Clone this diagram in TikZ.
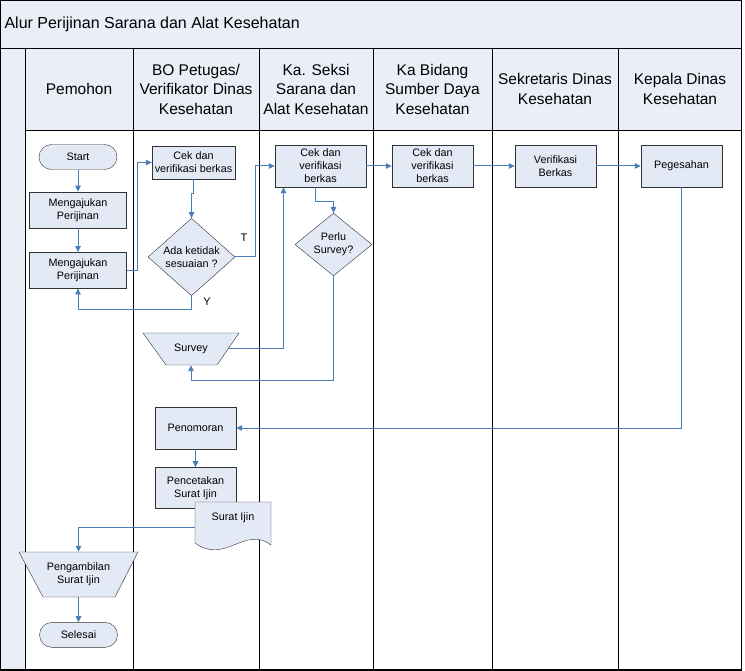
\documentclass[tikz,border=0pt]{standalone}
\usepackage{fontspec}
\setmainfont{Liberation Sans}
\usetikzlibrary{positioning,arrows.meta,shapes.geometric}
\definecolor{hdrfill}{HTML}{E9EEF7}
\definecolor{boxfill}{HTML}{E4EAF5}
\definecolor{flowblue}{HTML}{4A7EBB}

\begin{document}
\begin{tikzpicture}[
  x=1pt, y=-1pt,
  box/.style={draw=black!80, fill=boxfill, align=center, inner sep=2pt,
              font=\fontsize{10.8}{13}\selectfont, minimum width=81pt, minimum height=42pt},
  term/.style={box, rounded corners=12.5pt, minimum width=78pt, minimum height=25pt},
  dec/.style={box, diamond, inner sep=0pt},
  outline/.style={draw=black!80, fill=boxfill},
  plain/.style={align=center, inner sep=2pt, font=\fontsize{10.8}{13}\selectfont},
  lanehead/.style={align=center, font=\fontsize{15.5}{19.5}\selectfont},
  arr/.style={-{Triangle[length=6pt,width=5.5pt]}, flowblue, line width=1pt},
  yt/.style={font=\fontsize{11}{13}\selectfont}
]
\useasboundingbox (0,0) rectangle (745,671);
\fill[hdrfill] (0,0) rectangle (742,130);
\fill[hdrfill] (0,130) rectangle (25,670);
\draw[line width=1.2pt] (0.6,0.6) rectangle (741.4,670);
\draw (0,48) -- (742,48);
\draw (25,48) -- (25,670);
\draw (25,130) -- (742,130);
\foreach \x in {133,259,373,492,618} \draw (\x,48) -- (\x,670);

\node[anchor=west, font=\fontsize{16}{19}\selectfont] (title) at (1,24) {Alur Perijinan Sarana dan Alat Kesehatan};
\node[lanehead] (h1) at (79,89) {Pemohon};
\node[lanehead] (h2) at (196,89) {BO Petugas/\\Verifikator Dinas\\Kesehatan};
\node[lanehead] (h3) at (316,89) {Ka. Seksi\\Sarana dan\\Alat Kesehatan};
\node[lanehead] (h4) at (432.5,89) {Ka Bidang\\Sumber Daya\\Kesehatan};
\node[lanehead] (h5) at (555,89) {Sekretaris Dinas\\Kesehatan};
\node[lanehead] (h6) at (680,89) {Kepala Dinas\\Kesehatan};

\node[term] (start) at (78,157) {Start};
\node[box, minimum width=97pt, minimum height=36pt, below=22pt of start] (m1) {Mengajukan\\Perijinan};
\node[box, minimum width=97pt, minimum height=36pt, below=24pt of m1] (m2) {Mengajukan\\Perijinan};
\node[box, minimum width=83pt, minimum height=33pt] (cek1) at (193.5,162.5) {Cek dan\\verifikasi berkas};
\node[dec, minimum width=87pt, minimum height=72pt] (d1) at (191.5,257) {Ada ketidak\\sesuaian ?};
\node[box, minimum width=91pt] (cek2) at (320.5,166) {Cek dan\\verifikasi\\berkas};
\node[dec, minimum width=77pt, minimum height=59pt] (d2) at (333.5,244.5) {Perlu\\Survey?};
\filldraw[outline] (143,333) -- (239,333) -- (217,365) -- (166,365) -- cycle;
\node[plain, minimum width=76pt, minimum height=32pt] (survey) at (191,349) {Survey};
\node[box] (cek3) at (432.5,166) {Cek dan\\verifikasi\\berkas};
\node[box] (verif) at (555.5,166) {Verifikasi\\Berkas};
\node[box] (peg) at (681.5,166) {Pegesahan};
\node[box] (pen) at (195.5,428) {Penomoran};
\node[box, minimum height=41pt, below=18pt of pen] (cet) {Pencetakan\\Surat Ijin};
\filldraw[outline] (195,502) -- (271,502) -- (271,545)
  .. controls (245,525) and (225,565) .. (195,543) -- cycle;
\node[plain, minimum width=76pt, minimum height=30pt] (surat) at (233,518) {Surat Ijin};
\filldraw[outline] (19,552) -- (138,552) -- (115,597) -- (43,597) -- cycle;
\node[plain, minimum width=96pt, minimum height=45pt] (ambil) at (78.5,574.5) {Pengambilan\\Surat Ijin};
\node[term, below=25pt of ambil] (selesai) {Selesai};

\draw[arr] (start) -- (m1);
\draw[arr] (m1) -- (m2);
\draw[arr] (m2.east) -- ++(11,0) |- (cek1.west);
\draw[arr] (cek1.south) -- ++(0,14) -| (d1.north);
\draw[arr] (d1.east) -- ++(20,0) |- (cek2.west);
\draw[arr] (d1.south) -- ++(0,14) -| (m2.south);
\draw[arr] ([xshift=-5pt]cek2.south) -- ++(0,14) -| (d2.north);
\draw[arr] (d2.south) -- ++(0,104) -| (survey.south);
\draw[arr] (survey.east) -| ([xshift=-37pt]cek2.south);
\draw[arr] (cek2) -- (cek3);
\draw[arr] (cek3) -- (verif);
\draw[arr] (verif) -- (peg);
\draw[arr] (peg.south) |- (pen.east);
\draw[arr] (pen) -- (cet);
\draw[arr] ([yshift=-9pt]surat.west) -| (ambil.north);
\draw[arr] (ambil) -- (selesai);

\node[yt] (lt) at (244,238) {T};
\node[yt] (ly) at (207,302) {Y};
\end{tikzpicture}
\end{document}
